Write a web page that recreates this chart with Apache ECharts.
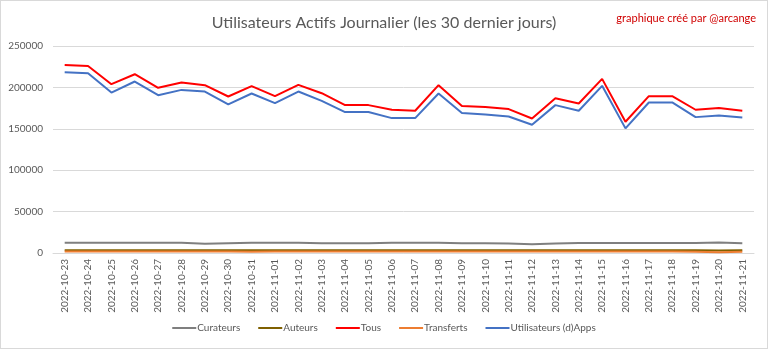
<!DOCTYPE html>
<html><head><meta charset="utf-8">
<script src="https://cdn.jsdelivr.net/npm/echarts@6/dist/echarts.min.js"></script>
<style>html,body{margin:0;padding:0;background:#fff}#c{width:766px;height:347px;border:1px solid #d9d9d9}</style>
</head><body><div id="c"></div>
<script>
const categories = ["2022-10-23","2022-10-24","2022-10-25","2022-10-26","2022-10-27","2022-10-28","2022-10-29","2022-10-30","2022-10-31","2022-11-01","2022-11-02","2022-11-03","2022-11-04","2022-11-05","2022-11-06","2022-11-07","2022-11-08","2022-11-09","2022-11-10","2022-11-11","2022-11-12","2022-11-13","2022-11-14","2022-11-15","2022-11-16","2022-11-17","2022-11-18","2022-11-19","2022-11-20","2022-11-21"];
const curateurs = [12500,12500,12500,12500,12500,12500,11200,11800,12400,12500,12400,11800,11800,11800,12300,12400,12400,11700,11700,11500,10600,11500,12000,12000,12000,12000,12000,12000,12800,11800];
const auteurs = [3400,3400,3400,3400,3400,3400,3300,3300,3300,3400,3400,3300,3300,3300,3300,3300,3400,3300,3300,3300,3200,3300,3300,3400,3300,3300,3300,3300,3000,3300];
const tous = [227100,225900,203900,215900,199500,205900,202700,189000,201500,189400,203100,193000,178600,178600,173000,171800,202700,177400,176200,173800,162500,187000,180600,210300,158500,189400,189400,173000,175000,171800];
const transferts = [1800,1800,1800,1800,1800,1800,1800,1700,1600,1800,1800,1800,1800,1800,1800,1800,1800,1800,1800,1800,1800,1800,1800,1800,1800,1800,1800,1600,1000,1600];
const dapps = [218300,217100,193800,207100,190600,197000,195000,179400,192600,181000,195000,183800,170200,170200,162900,162900,192600,169000,167300,164900,154900,178600,171800,201900,150500,181800,181800,164100,166100,163700];
const yTicks = [0,50000,100000,150000,200000,250000];

const chart = echarts.init(document.getElementById('c'));
const mk = (name, data, color, w) => ({name, type:'line', data, symbol:'none', lineStyle:{color, width:w}, itemStyle:{color}, animation:false});
chart.setOption({
  animation:false,
  textStyle:{fontFamily:'Lato, "Open Sans", sans-serif'},
  title:[
    {text:'Utilisateurs Actifs Journalier (les 30 dernier jours)', left:'center', top:9, textStyle:{fontSize:16, fontWeight:'normal', color:'#595959', fontFamily:'Lato'}},
    {text:'graphique créé par @arcange', right:6, top:7, textStyle:{fontSize:11, fontWeight:'normal', color:'#d00000', fontFamily:'Lato'}}
  ],
  legend:{bottom:10, left:'center', itemWidth:24, itemHeight:10, itemGap:18, icon:'path://M0,4 L24,4 L24,6 L0,6 Z',
    textStyle:{fontSize:10, color:'#595959', padding:[0,0,0,-4]},
    data:['Curateurs','Auteurs','Tous','Transferts','Utilisateurs (d)Apps']},
  grid:{left:52, right:13, top:45, bottom:95},
  xAxis:{type:'category', data:categories, boundaryGap:true,
    axisLine:{lineStyle:{color:'#d9d9d9'}}, axisTick:{show:false},
    axisLabel:{rotate:90, fontSize:10, color:'#595959', interval:0, margin:6}},
  yAxis:{type:'value', min:yTicks[0], max:yTicks[yTicks.length-1], interval:yTicks[1]-yTicks[0],
    axisLine:{show:false}, axisTick:{show:false},
    axisLabel:{fontSize:10, color:'#595959', margin:10, formatter:v => String(v)},
    splitLine:{lineStyle:{color:'#d9d9d9'}}},
  series:[
    mk('Curateurs', curateurs, '#7f7f7f', 2),
    mk('Auteurs', auteurs, '#7f6000', 2),
    mk('Tous', tous, '#ff0000', 2),
    mk('Transferts', transferts, '#ed7d31', 2),
    mk('Utilisateurs (d)Apps', dapps, '#4472c4', 2)
  ]
});
</script></body></html>
